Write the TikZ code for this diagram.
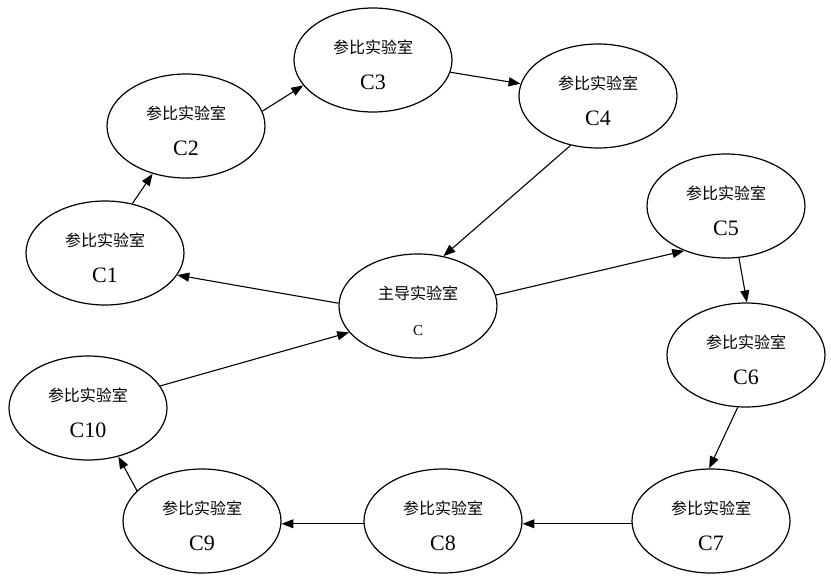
\documentclass[tikz,border=0pt]{standalone}
\usepackage{fontspec}
\setmainfont{Liberation Serif}
\newfontfamily\cjk{Noto Sans CJK SC}
\usetikzlibrary{shapes.geometric,arrows.meta}

\begin{document}
\begin{tikzpicture}[
  x=1pt,y=-1pt,
  lab/.style={draw,ellipse,line width=1.2pt,minimum width=158pt,minimum height=104pt,
    inner sep=0pt,align=center,font=\fontsize{16}{36}\selectfont,text height=59pt},
  arrow/.style={-{Triangle[length=12pt,width=9pt]},line width=1.1pt}
]
  \useasboundingbox (0,0) rectangle (831,576);

  % reference labs round the ring
  \node[lab] (c1)  at (105,253) {{\cjk 参比实验室}\\{\fontsize{22}{36}\selectfont C1}};
  \node[lab] (c2)  at (186,126) {{\cjk 参比实验室}\\{\fontsize{22}{36}\selectfont C2}};
  \node[lab] (c3)  at (373,60)  {{\cjk 参比实验室}\\{\fontsize{22}{36}\selectfont C3}};
  \node[lab] (c4)  at (598,96)  {{\cjk 参比实验室}\\{\fontsize{22}{36}\selectfont C4}};
  \node[lab] (c5)  at (726,206) {{\cjk 参比实验室}\\{\fontsize{22}{36}\selectfont C5}};
  \node[lab] (c6)  at (746,355) {{\cjk 参比实验室}\\{\fontsize{22}{36}\selectfont C6}};
  \node[lab] (c7)  at (711,521) {{\cjk 参比实验室}\\{\fontsize{22}{36}\selectfont C7}};
  \node[lab] (c8)  at (443,521) {{\cjk 参比实验室}\\{\fontsize{22}{36}\selectfont C8}};
  \node[lab] (c9)  at (202,521) {{\cjk 参比实验室}\\{\fontsize{22}{36}\selectfont C9}};
  \node[lab] (c10) at (88,408)  {{\cjk 参比实验室}\\{\fontsize{22}{36}\selectfont C10}};

  % leading lab
  \node[lab] (c) at (418,306) {{\cjk 主导实验室}\\{\fontsize{15}{36}\selectfont C}};

  \draw[arrow] (c1.61)   -- (c2.-125);
  \draw[arrow] (c2.11)   -- (c3.200);
  \draw[arrow] (c3.-9)   -- (c4.171);
  \draw[arrow] (c4.-119) -- (c.63);
  \draw[arrow] (c.178)   -- (c1.-17);
  \draw[arrow] (c.8)     -- (c5.-133);
  \draw[arrow] (c5.-76)  -- (c6.89);
  \draw[arrow] (c6.-99)  -- (c7.92);
  \draw[arrow] (c7.182)  -- (c8.-2);
  \draw[arrow] (c8.182)  -- (c9.-2);
  \draw[arrow] (c9.155)  -- (c10.-58);
  \draw[arrow] (c10.17)  -- (c.-159);
\end{tikzpicture}
\end{document}
